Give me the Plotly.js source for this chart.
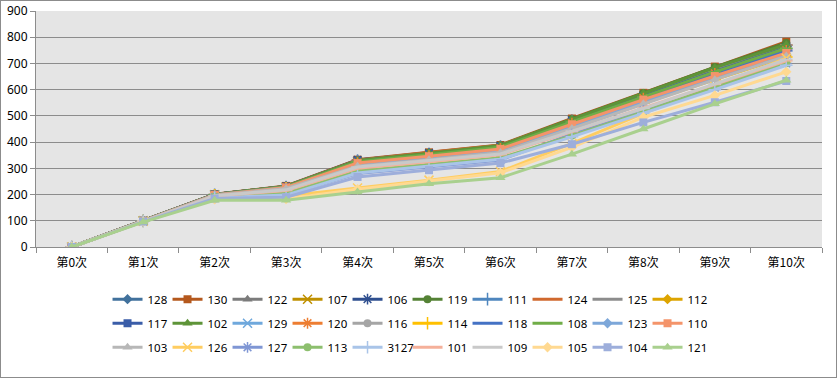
<!DOCTYPE html>
<html><head><meta charset="utf-8">
<script src="https://cdn.plot.ly/plotly-3.0.1.min.js"></script>
<style>
html,body{margin:0;padding:0;background:#fff;}
#chart{width:835px;height:376px;border:1px solid #8c8c8c;}
</style></head>
<body><div id="chart"></div>
<script>
const categories = ["第0次","第1次","第2次","第3次","第4次","第5次","第6次","第7次","第8次","第9次","第10次"];
const seriesNames = ["128","130","122","107","106","119","111","124","125","112",
                     "117","102","129","120","116","114","118","108","123","110",
                     "103","126","127","113","3127","101","109","105","104","121"];
const s128  = [0,100,200,230,330,357,385,485,582,680,768];
const s130  = [0,100,201,233,333,361,389,490,588,688,783];
const s122  = [0,100,200,232,331,359,387,487,585,684,775];
const s107  = [0,100,199,229,325,350,377,470,565,660,745];
const s106  = [0,100,200,231,332,358,386,484,578,672,765];
const s119  = [0,100,200,231,330,358,387,488,587,686,778];
const s111  = [0,100,199,229,327,353,381,478,572,665,755];
const s124  = [0,100,200,231,331,360,388,484,580,676,770];
const s125  = [0,100,200,230,328,355,384,482,578,676,770];
const s112  = [0,99,198,226,318,345,372,462,555,645,730];
const s117  = [0,100,200,230,328,354,382,480,575,670,760];
const s102  = [0,100,200,231,330,358,387,487,586,684,772];
const s129  = [0,99,197,222,305,330,358,452,547,640,738];
const s120  = [0,100,199,228,322,348,376,472,568,662,750];
const s116  = [0,99,198,225,315,340,367,460,557,652,745];
const s114  = [0,99,197,224,312,338,365,455,548,638,725];
const s118  = [0,100,199,228,324,350,378,475,570,660,748];
const s108  = [0,100,199,229,325,352,380,477,572,668,758];
const s123  = [0,99,198,226,316,342,370,462,555,646,735];
const s110  = [0,99,198,227,320,346,374,468,562,652,740];
const s103  = [0,99,197,223,308,333,360,452,546,638,728];
const s126  = [0,98,190,195,225,255,288,395,510,612,720];
const s127  = [0,98,190,200,280,305,332,430,520,608,700];
const s113  = [0,98,192,205,290,315,340,425,515,610,702];
const s3127 = [0,98,188,198,282,308,335,420,510,600,693];
const s101  = [0,99,195,215,300,325,352,440,530,620,710];
const s109  = [0,99,195,218,305,330,355,442,528,622,715];
const s105  = [0,97,182,183,220,251,283,380,495,578,668];
const s104  = [0,97,185,190,267,293,320,392,475,552,633];
const s121  = [0,95,178,178,210,241,264,354,450,546,636];
const seriesValues = [s128,s130,s122,s107,s106,s119,s111,s124,s125,s112,
                      s117,s102,s129,s120,s116,s114,s118,s108,s123,s110,
                      s103,s126,s127,s113,s3127,s101,s109,s105,s104,s121];
const colors = ["#41719C","#B4581D","#7B7B7B","#BF9000","#2F4F8F","#548235","#4E86BE","#D0692E","#8C8C8C","#DDA400",
                "#3A5DA8","#5E9438","#6FA8DC","#ED7D31","#A5A5A5","#FFC000","#4472C4","#70AD47","#7DA7D9","#F4946A",
                "#B7B7B7","#FFCD60","#7F96D4","#8DBF6E","#A9C4E8","#F5B09A","#C9C9C9","#FFD991","#9DAEDB","#A9D08E"];
const symbolCycle = ["diamond","square","triangle-up","x-thin-open","asterisk-open","circle","cross-thin-open","line-ew-open","line-ew-open"];

const traces = seriesNames.map((name,i)=>{
  const sym = symbolCycle[i % 9];
  const open = sym.endsWith("-open");
  const lg = i < 10 ? "legend" : (i < 20 ? "legend2" : "legend3");
  let size = open ? 9 : 8;
  if (sym === "triangle-up") size = 9;
  return {
    type:"scatter", mode:"lines+markers", name:name,
    x:categories, y:seriesValues[i],
    legend: lg,
    line:{color:colors[i], width:3},
    marker:{symbol:sym, size:size, color:colors[i], line:{color:colors[i], width: open ? 1.5 : 0}}
  };
});

const legBase = {orientation:"h", xanchor:"left", yanchor:"middle", font:{family:"Noto Sans, DejaVu Sans, sans-serif", size:11.5, color:"#000"},
  bgcolor:"rgba(0,0,0,0)", entrywidth:15, entrywidthmode:"pixels", itemwidth:30, itemclick:false};

const layout = {
  width:835, height:376,
  margin:{l:35, r:14, t:10, b:130},
  paper_bgcolor:"#fff", plot_bgcolor:"#E5E5E5",
  font:{family:"Noto Sans CJK SC, Noto Sans, sans-serif", size:12, color:"#000"},
  showlegend:true,
  xaxis:{type:"category", range:[-0.5,10.5], showgrid:false, showline:true, linecolor:"#8c8c8c", linewidth:1,
         ticks:"outside", tickson:"boundaries", ticklen:5, tickcolor:"#8c8c8c", tickfont:{size:12}, ticklabelstandoff:5, fixedrange:true},
  yaxis:{range:[0,900], dtick:100, showgrid:true, gridcolor:"#8c8c8c", gridwidth:1, showline:true, linecolor:"#8c8c8c",
         ticks:"outside", ticklen:5, tickcolor:"#8c8c8c", tickfont:{family:"Noto Sans, sans-serif", size:12}, zeroline:false, fixedrange:true},
  legend: Object.assign({}, legBase, {x:0.091, y:-0.221}),
  legend2: Object.assign({}, legBase, {x:0.091, y:-0.323}),
  legend3: Object.assign({}, legBase, {x:0.091, y:-0.425})
};
Plotly.newPlot("chart", traces, layout, {displayModeBar:false, staticPlot:true});
</script></body></html>
